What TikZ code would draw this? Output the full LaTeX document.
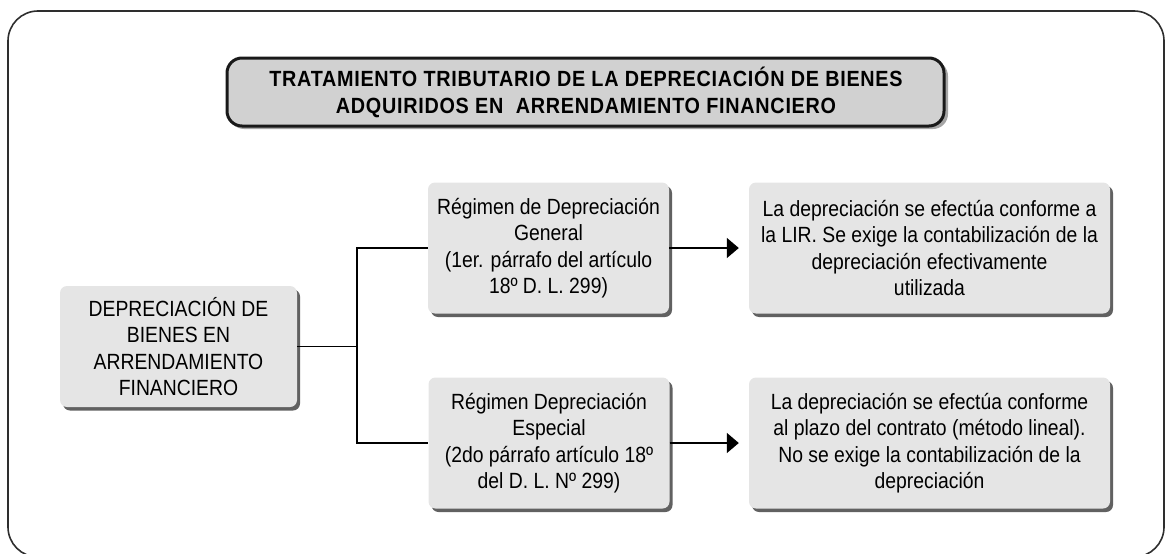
\documentclass[tikz,border=0pt]{standalone}
\usepackage{fontspec}
\setmainfont{Liberation Sans}[FakeStretch=0.88]
\newfontfamily\titlefont{Liberation Sans}[FakeStretch=0.9,LetterSpace=3.3]
\usetikzlibrary{arrows.meta,shadows}
\begin{document}
\begin{tikzpicture}[x=1pt,y=-1pt,
  boxstyle/.style={fill=black!10, rounded corners=7pt, align=center,
    font=\fontsize{22}{26.5}\selectfont, inner sep=0pt,
    drop shadow={shadow xshift=3pt, shadow yshift=-3.5pt, fill=black!62, opacity=1}},
  conn/.style={line width=1.6pt, black},
  arr/.style={line width=1.6pt, black, -{Triangle[length=12pt,width=20pt]}, shorten >=10pt}
]
\useasboundingbox (0,0) rectangle (1165,554);
\begin{scope}
\clip (0,0) rectangle (1165,554);
\draw[line width=1.6pt, black!82, rounded corners=30pt] (8,11) rectangle (1164,557);
\end{scope}
% title
\fill[black!35, rounded corners=15pt] (229,61) rectangle (948,129);
\draw[line width=3pt, black!90, fill=black!18, rounded corners=15pt] (227,58) rectangle (944,126);
\node[font=\titlefont\bfseries\fontsize{22}{27}\selectfont, align=center] (title) at (586,92)
  {TRATAMIENTO TRIBUTARIO DE LA DEPRECIACIÓN DE BIENES\\ADQUIRIDOS EN\ \ ARRENDAMIENTO FINANCIERO};
% boxes
\node[boxstyle, minimum width=237pt, minimum height=121pt] (left) at (178.5,346.5)
  {DEPRECIACIÓN DE\\BIENES EN\\ARRENDAMIENTO\\FINANCIERO};
\node[boxstyle, minimum width=241pt, minimum height=131pt] (gen) at (548.5,248)
  {Régimen de Depreciación\\General\\(1er. párrafo del artículo\\18º D. L. 299)};
\node[boxstyle, minimum width=241pt, minimum height=131pt] (esp) at (549,443)
  {Régimen Depreciación\\Especial\\(2do párrafo artículo 18º\\del D. L. Nº 299)};
\node[boxstyle, minimum width=361pt, minimum height=131pt] (rgen) at (929.5,248)
  {La depreciación se efectúa conforme a\\la LIR. Se exige la contabilización de la\\depreciación efectivamente\\utilizada};
\node[boxstyle, minimum width=361pt, minimum height=131pt] (resp) at (929.5,443)
  {La depreciación se efectúa conforme\\al plazo del contrato (método lineal).\\No se exige la contabilización de la\\depreciación};
% connectors
\coordinate (j) at (357,346);
\draw[conn] (left.east) -- (left.east -| j);
\draw[conn] (gen.west) -- (gen.west -| j) -- (esp.west -| j) -- (esp.west);
\draw[arr] (gen.east) -- (rgen.west);
\draw[arr] (esp.east) -- (resp.west);
\end{tikzpicture}
\end{document}
